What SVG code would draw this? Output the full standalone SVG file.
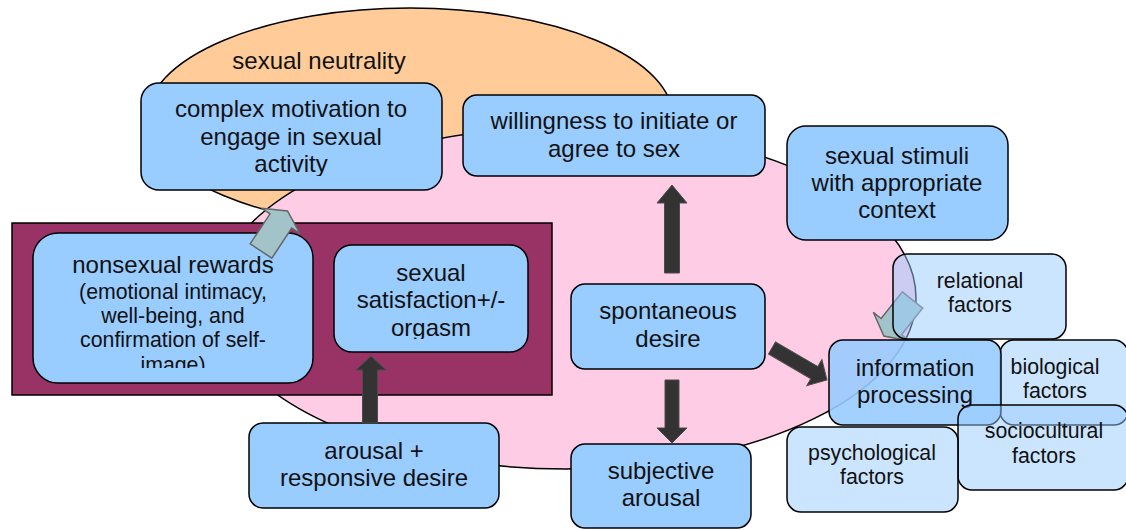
<svg xmlns="http://www.w3.org/2000/svg" width="1126" height="530" viewBox="0 0 1126 530">
<style>
.bg{stroke:#000;stroke-width:1.5}
.node{fill:#99CCFF;stroke:#000;stroke-width:1.5}
.fac{fill:#99CCFF;fill-opacity:0.5;stroke:#000;stroke-width:1.5}
.info{fill:#99CCFF;fill-opacity:0.9;stroke:#000;stroke-width:1.5}
.t{font-family:"Liberation Sans",Arial,sans-serif;font-size:24px;fill:#111;text-anchor:middle}
.s{font-family:"Liberation Sans",Arial,sans-serif;font-size:21.3px;fill:#111;text-anchor:middle}
.dark{fill:#333;stroke:#4d4d4d;stroke-width:1}
.light{fill:#A2C4C9;stroke:#666;stroke-width:1.5;stroke-linejoin:miter}
</style>
<defs>
<clipPath id="clipNon"><rect x="33" y="233" width="280" height="135"/></clipPath>
<clipPath id="clipSat"><rect x="334" y="245" width="194" height="94"/></clipPath>
<clipPath id="clipCom"><rect x="141" y="83" width="301" height="93"/></clipPath>
</defs>
<rect width="1126" height="530" fill="#fff"/>
<g id="background">
<ellipse class="bg" cx="410" cy="118" rx="263" ry="110" fill="#FFCC99"/>
<text class="t" x="319" y="69">sexual neutrality</text>
<ellipse class="bg" cx="566" cy="298" rx="350" ry="171" fill="#FFCCE6"/>
<rect class="bg" x="12" y="223" width="540" height="172" fill="#993366"/>
</g>
<g id="complex-motivation">
<rect class="node" x="141" y="83" width="301" height="107" rx="18"/>
<g clip-path="url(#clipCom)">
<text class="t" x="291" y="117">complex motivation to</text>
<text class="t" x="291" y="145">engage in sexual</text>
<text class="t" x="291" y="172">activity</text>
</g>
</g>
<g id="willingness">
<rect class="node" x="463" y="95" width="302" height="81" rx="14"/>
<text class="t" x="614" y="129">willingness to initiate or</text>
<text class="t" x="614" y="157">agree to sex</text>
</g>
<g id="sexual-stimuli">
<rect class="node" x="787" y="126" width="221" height="114" rx="19"/>
<text class="t" x="897" y="164">sexual stimuli</text>
<text class="t" x="897" y="191">with appropriate</text>
<text class="t" x="897" y="218">context</text>
</g>
<g id="nonsexual-rewards">
<rect class="node" x="33" y="233" width="280" height="150" rx="25"/>
<g clip-path="url(#clipNon)">
<text class="t" x="173" y="273">nonsexual rewards</text>
<text class="s" x="173" y="299">(emotional intimacy,</text>
<text class="s" x="173" y="323">well-being, and</text>
<text class="s" x="173" y="347">confirmation of self-</text>
<text class="s" x="173" y="372">image)</text>
</g>
</g>
<g id="sexual-satisfaction">
<rect class="node" x="334" y="245" width="194" height="107" rx="18"/>
<g clip-path="url(#clipSat)">
<text class="t" x="431" y="281">sexual</text>
<text class="t" x="431" y="308">satisfaction+/-</text>
<text class="t" x="431" y="336">orgasm</text>
</g>
</g>
<g id="spontaneous-desire">
<rect class="node" x="571" y="284" width="194" height="85" rx="14"/>
<text class="t" x="668" y="319">spontaneous</text>
<text class="t" x="668" y="347">desire</text>
</g>
<g id="subjective-arousal">
<rect class="node" x="571" y="444" width="180" height="84" rx="14"/>
<text class="t" x="661" y="479">subjective</text>
<text class="t" x="661" y="506">arousal</text>
</g>
<g id="arousal-responsive">
<rect class="node" x="249" y="423" width="250" height="85" rx="14"/>
<text class="t" x="374" y="459">arousal +</text>
<text class="t" x="374" y="486">responsive desire</text>
</g>
<g id="connectors">
<polygon class="dark" points="664.5,273 664.5,203 657,203 672,185 687,203 679.5,203 679.5,273"/>
<polygon class="dark" points="665,380 679,380 679,428 687,428 672,443 657,428 665,428"/>
<polygon class="dark" points="362.5,423 362.5,370 356,370 371,356 386,370 377.5,370 377.5,423"/>
<polygon class="dark" transform="translate(772,348) rotate(30.2)" points="0,-7 49,-7 49,-15 63.6,0 49,15 49,7 0,7"/>
<polygon class="light" transform="translate(261,251) rotate(-56.5)" points="0,-13 36,-13 36,-23 48,0 36,23 36,13 0,13"/>
<polygon class="light" transform="translate(912.5,300) rotate(128.5)" points="0,-13 34,-13 34,-23 46,0 34,23 34,13 0,13"/>
</g>
<g id="relational-factors">
<rect class="fac" x="893" y="254" width="173" height="85" rx="14"/>
<text class="s" x="980" y="288">relational</text>
<text class="s" x="980" y="312">factors</text>
</g>
<g id="biological-factors">
<rect class="fac" x="1000" y="340" width="128" height="85" rx="14"/>
<text class="s" x="1055" y="374">biological</text>
<text class="s" x="1055" y="398">factors</text>
</g>
<g id="information-processing">
<rect class="info" x="829" y="340" width="172" height="85" rx="14"/>
<text class="t" x="915" y="376">information</text>
<text class="t" x="915" y="403">processing</text>
</g>
<g id="sociocultural-factors">
<rect class="fac" x="958" y="405" width="170" height="85" rx="14"/>
<text class="s" x="1044" y="438">sociocultural</text>
<text class="s" x="1044" y="463">factors</text>
</g>
<g id="psychological-factors">
<rect class="fac" x="787" y="427" width="171" height="85" rx="14"/>
<text class="s" x="872" y="460">psychological</text>
<text class="s" x="872" y="484">factors</text>
</g>
</svg>
